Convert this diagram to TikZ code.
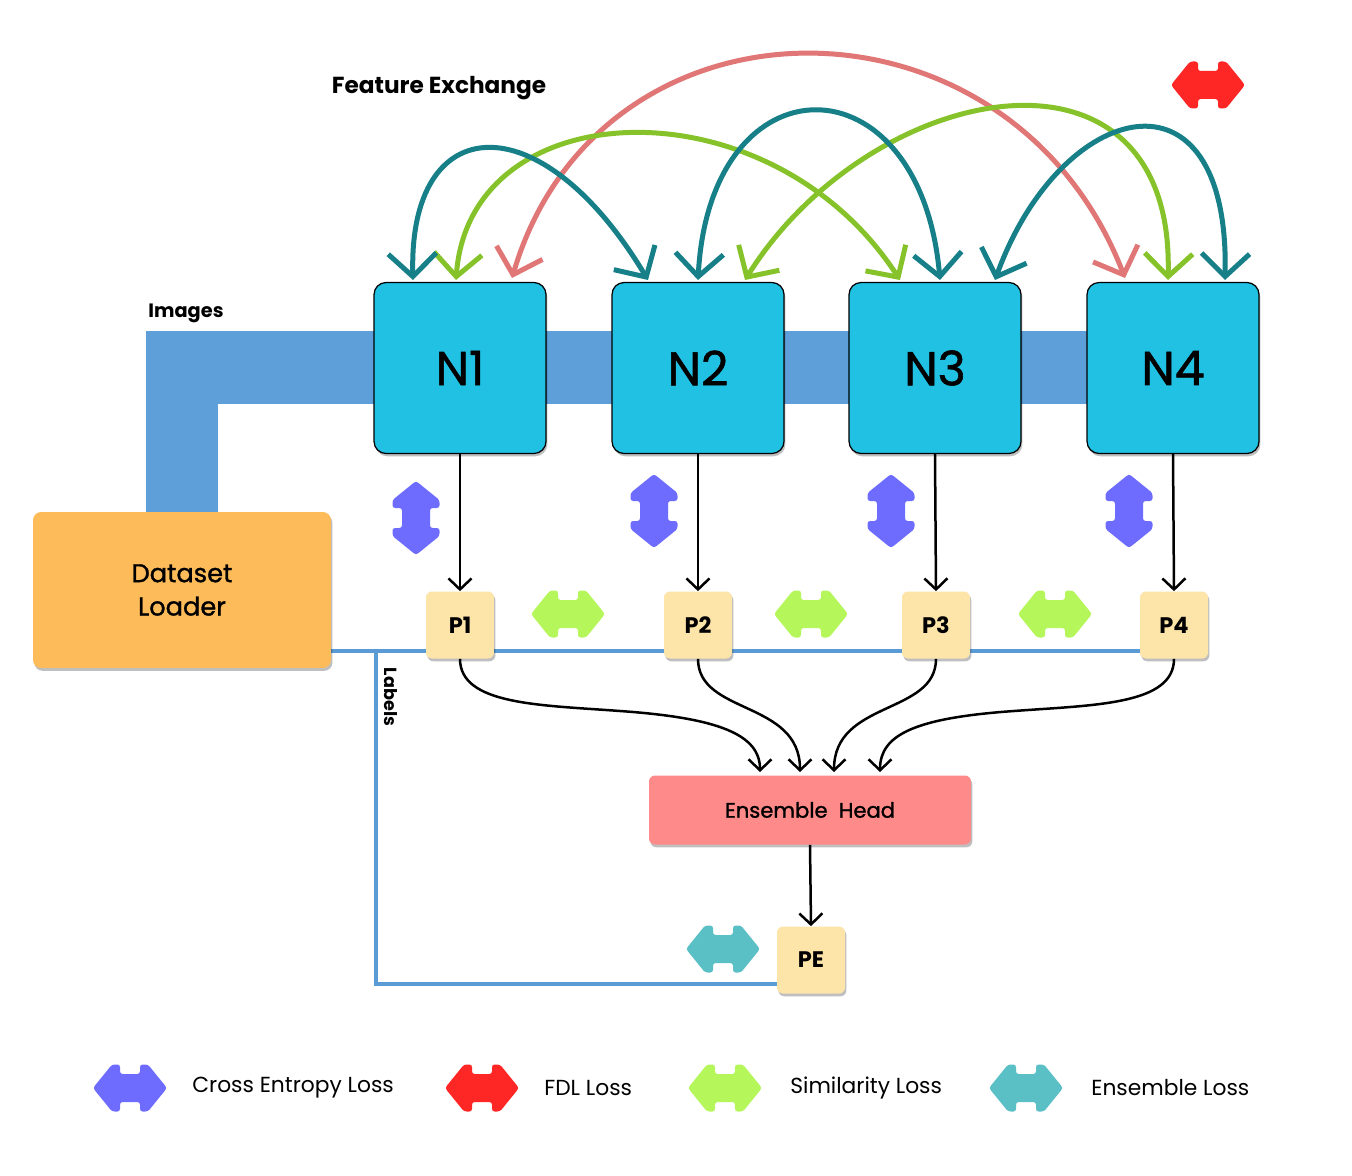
\documentclass[tikz,border=0pt]{standalone}
\usepackage{fontspec}
\setmainfont{Poppins}
\newfontfamily\medfont{Poppins}[FakeBold=1.2]
\usetikzlibrary{arrows.meta,shadows,calc}
\definecolor{ncyan}{HTML}{21C1E4}
\definecolor{band}{HTML}{5F9FD9}
\definecolor{lblline}{HTML}{5B9BD5}
\definecolor{dsorange}{HTML}{FDBB59}
\definecolor{pyellow}{HTML}{FDE4A8}
\definecolor{ensred}{HTML}{FF8A8A}
\definecolor{purp}{HTML}{6E6CFF}
\definecolor{fdlred}{HTML}{FF2626}
\definecolor{simgreen}{HTML}{B5F65A}
\definecolor{enteal}{HTML}{5BBFC6}
\definecolor{arcteal}{HTML}{167F88}
\definecolor{arcgreen}{HTML}{86C32A}
\definecolor{arcpink}{HTML}{E07676}
\tikzset{
  shad/.style={drop shadow={shadow xshift=0.8pt,shadow yshift=-1.6pt,opacity=0.25,fill=black}},
  nbox/.style={draw=black,line width=0.7pt,fill=ncyan,rounded corners=2.4mm,minimum width=3.44cm,minimum height=3.42cm,inner sep=0pt,font=\medfont\fontsize{27}{30}\selectfont,shad},
  pbox/.style={fill=pyellow,rounded corners=1.2mm,minimum width=1.36cm,minimum height=1.34cm,inner sep=0pt,font=\bfseries\fontsize{12.8}{15}\selectfont,shad},
  blk/.style={draw=black,line width=0.5mm,-{Straight Barb[length=2.2mm,width=4.6mm]}},
  arc/.style={line width=1mm,{Straight Barb[length=4.6mm,width=9.6mm]}-{Straight Barb[length=4.6mm,width=9.6mm]}},
  legtxt/.style={anchor=west,font=\fontsize{12.4}{15}\selectfont,inner sep=0pt},
  dbl/.pic={\fill[#1,rounded corners=1.5pt] (-37,0) -- (-18,-23.5) -- (-10,-23.5) -- (-10,-14) -- (10,-14) -- (10,-23.5) -- (18,-23.5) -- (37,0) -- (18,23.5) -- (10,23.5) -- (10,14) -- (-10,14) -- (-10,23.5) -- (-18,23.5) -- cycle;}
}
\begin{document}
\begin{tikzpicture}[x=0.02cm,y=-0.02cm]
\useasboundingbox[fill=white] (0,0) rectangle (1352,1176);
% images band
\fill[band] (146,331) rectangle (1150,404);
\fill[band] (146,331) rectangle (218,512);
\node[font=\bfseries\fontsize{11}{13}\selectfont] (imgl) at (186,313) {Images};
% labels line
\coordinate (la) at (331,651);
\coordinate (lb) at (1160,651);
\coordinate (lc) at (376,651);
\coordinate (ld) at (376,984);
\draw[lblline,line width=0.7mm] (la) -- (lb);
\draw[lblline,line width=0.7mm] (lc) -- (ld) -- (790,984);
\node[rotate=-90,font=\bfseries\fontsize{10}{12}\selectfont] (labl) at (391,697) {Labels};
% dataset loader
\node[fill=dsorange,rounded corners=1.6mm,minimum width=5.96cm,minimum height=3.12cm,inner sep=0pt,align=center,font=\medfont\fontsize{14.6}{19}\selectfont,shad] (D) at (182,590) {Dataset\\Loader};
% N boxes
\node[nbox] (N1) at (460,368) {N1};
\node[nbox] (N2) at (698,368) {N2};
\node[nbox] (N3) at (935,368) {N3};
\node[nbox] (N4) at (1173,368) {N4};
% P boxes
\node[pbox] (P1) at (460,625) {P1};
\node[pbox] (P2) at (698,625) {P2};
\node[pbox] (P3) at (936,625) {P3};
\node[pbox] (P4) at (1174,625) {P4};
% ensemble head and PE
\node[fill=ensred,rounded corners=1.2mm,minimum width=6.44cm,minimum height=1.38cm,inner sep=0pt,font=\medfont\fontsize{12}{15}\selectfont,shad] (E) at (810,810) {Ensemble\ \ Head};
\node[pbox] (PE) at (811,960) {PE};
% N -> P arrows
\draw[blk] (N1.south) -- (P1.north);
\draw[blk] (N2.south) -- (P2.north);
\draw[blk] (N3.south) -- (P3.north);
\draw[blk] (N4.south) -- (P4.north);
\draw[blk] (E.south) -- (PE.north);
% P -> ensemble
\coordinate (e1) at (760,772);
\coordinate (e2) at (800,772);
\coordinate (e3) at (834,772);
\coordinate (e4) at (880,772);
\draw[blk] (P1.south) .. controls (460,705) and (540,705) .. (620,711) .. controls (720,718) and (760,735) .. (e1);
\draw[blk] (P2.south) .. controls (698,715) and (800,700) .. (e2);
\draw[blk] (P3.south) .. controls (936,715) and (834,700) .. (e3);
\draw[blk] (P4.south) .. controls (1174,705) and (1094,705) .. (1014,711) .. controls (914,718) and (880,735) .. (e4);
% feature exchange arcs
\coordinate (a1) at (413,280); \coordinate (a2) at (648,280);
\coordinate (b1) at (456,280); \coordinate (b2) at (900,280);
\coordinate (c1) at (512,278); \coordinate (c2) at (1125,278);
\coordinate (d1) at (698,280); \coordinate (d2) at (940,280);
\coordinate (f1) at (745,280); \coordinate (f2) at (1168,280);
\coordinate (g1) at (995,280); \coordinate (g2) at (1225,280);
\draw[arc,arcpink] (c1) .. controls (600,-20) and (1010,-20) .. (c2);
\draw[arc,arcgreen] (b1) .. controls (470,90) and (770,80) .. (b2);
\draw[arc,arcgreen] (f1) .. controls (870,80) and (1175,20) .. (f2);
\draw[arc,arcteal] (a1) .. controls (408,110) and (540,100) .. (a2);
\draw[arc,arcteal] (d1) .. controls (710,55) and (920,55) .. (d2);
\draw[arc,arcteal] (g1) .. controls (1060,100) and (1230,55) .. (g2);
\node[font=\bfseries\fontsize{13.2}{16}\selectfont] (fx) at (439,88) {Feature Exchange};
% loss arrows
\pic[rotate=90] at (416,518) {dbl=purp};
\pic[rotate=90] at (654,511) {dbl=purp};
\pic[rotate=90] at (891,511) {dbl=purp};
\pic[rotate=90] at (1129,511) {dbl=purp};
\pic at (568,614) {dbl=simgreen};
\pic at (811,614) {dbl=simgreen};
\pic at (1055,614) {dbl=simgreen};
\pic at (723,949) {dbl=enteal};
\pic at (1208,85) {dbl=fdlred};
% legend
\pic at (130,1088) {dbl=purp};
\node[legtxt] (l1) at (192,1088) {Cross Entropy Loss};
\pic at (482,1088) {dbl=fdlred};
\node[legtxt] (l2) at (544,1088) {FDL Loss};
\pic at (725,1088) {dbl=simgreen};
\node[legtxt] (l3) at (790,1088) {Similarity Loss};
\pic at (1026,1088) {dbl=enteal};
\node[legtxt] (l4) at (1091,1088) {Ensemble Loss};
\end{tikzpicture}
\end{document}
